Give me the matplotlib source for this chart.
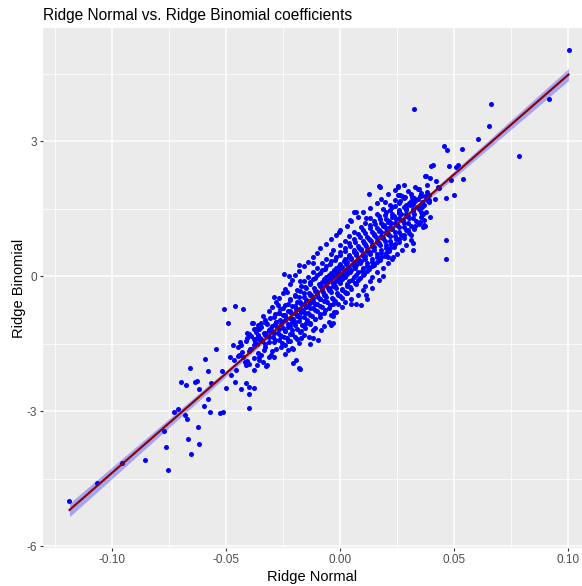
import numpy as np
import matplotlib
matplotlib.use("Agg")
import matplotlib.pyplot as plt

plt.rcParams['font.family'] = ['Liberation Sans', 'DejaVu Sans']

title = "Ridge Normal vs. Ridge Binomial coefficients"
x_label = "Ridge Normal"
y_label = "Ridge Binomial"
x_ticks = [-0.10, -0.05, 0.00, 0.05, 0.10]
x_tick_labels = ["-0.10", "-0.05", "0.00", "0.05", "0.10"]
y_ticks = [-6, -3, 0, 3]
y_tick_labels = ["-6", "-3", "0", "3"]

# sparse lower-left tail
left_tail = [
    (-0.1188, -4.99), (-0.1068, -4.59), (-0.0957, -4.16), (-0.0855, -4.09),
    (-0.0774, -3.44), (-0.0765, -3.80), (-0.0755, -4.31), (-0.0727, -3.03),
    (-0.0711, -2.95), (-0.0681, -3.09), (-0.0670, -3.17), (-0.0667, -3.62),
    (-0.0655, -3.96), (-0.0626, -3.36), (-0.0620, -3.73), (-0.0699, -2.36),
    (-0.0675, -2.42), (-0.0661, -2.04), (-0.0639, -2.36), (-0.0627, -2.34),
    (-0.0621, -2.51), (-0.0593, -1.84), (-0.0581, -2.10), (-0.0568, -2.38),
    (-0.0580, -2.74), (-0.0596, -2.88), (-0.0570, -3.02), (-0.0543, -1.61),
    (-0.0517, -2.12), (-0.0529, -3.04), (-0.0512, -3.03), (-0.0510, -0.73),
    (-0.0463, -0.66), (-0.0426, -0.74), (-0.0493, -1.04), (-0.0502, -2.48),
    (-0.0477, -2.20), (-0.0470, -1.53), (-0.0482, -1.80), (-0.0466, -1.87),
    (-0.0461, -2.36), (-0.0455, -2.09), (-0.0437, -1.53), (-0.0437, -2.51),
    (-0.0442, -1.76), (-0.0427, -1.79), (-0.0419, -1.90), (-0.0413, -2.37),
    (-0.0401, -2.46), (-0.0401, -2.62), (-0.0401, -2.93), (-0.0377, -2.48),
    (-0.0407, -1.27), (-0.0383, -1.05), (-0.0348, -1.05), (-0.0377, -1.18),
    (-0.0395, -1.63), (-0.0377, -1.40), (-0.0360, -1.31), (-0.0354, -1.18),
    (-0.0414, -1.98), (-0.0400, -1.96), (-0.0377, -2.09), (-0.0363, -1.98),
    (-0.0354, -1.79), (-0.0348, -1.76), (-0.0366, -1.51), (-0.0341, -1.44),
    (-0.0333, -1.64), (-0.0319, -1.98), (-0.0311, -1.20), (-0.0319, -1.07),
    (-0.0333, -1.27), (-0.0400, -1.67),
]

# edge points of the central cloud
cloud_edge = [
    (-0.0179, 0.24), (-0.0120, 0.28), (-0.0245, 0.04), (-0.0223, 0.01),
    (-0.0289, -0.46), (-0.0233, -0.35), (-0.0175, -0.10), (-0.0274, -0.64),
    (-0.0267, -0.83), (-0.0282, -1.01), (-0.0385, -1.05), (-0.0370, -1.20),
    (-0.0363, -1.38), (-0.0304, -1.76), (-0.0289, -1.79), (-0.0356, -1.87),
    (-0.0326, -2.00), (-0.0260, -1.57), (-0.0230, -1.64), (-0.0208, -1.63),
    (-0.0194, -1.87), (-0.0245, -1.35), (-0.0172, -1.38), (-0.0135, -1.35),
    (-0.0120, -1.20), (-0.0084, -1.20), (-0.0098, -1.42), (-0.0040, -0.87),
    (-0.0025, -0.79), (-0.0010, -0.61), (-0.0032, -1.05), (0.0048, -0.61),
    (0.0026, -0.38), (-0.0047, -0.27), (0.0034, 0.21), (-0.0179, -2.05),
    (0.0467, 0.80), (0.0464, 0.39), (0.0371, 2.22), (0.0129, 1.82),
    (0.0169, 2.00), (0.0254, 2.00), (-0.0003, 0.98), (0.0070, 1.43),
    (0.0045, 1.24), (0.0115, -0.42), (0.0119, -0.50), (0.0093, -0.64),
    (-0.0040, -1.09), (-0.0208, -1.93), (-0.0175, -2.07), (0.0369, 1.13),
    (0.0210, 0.42), (0.0232, 0.42), (0.0320, 0.73), (0.0313, 0.91),
    (0.0173, 1.98), (0.0254, 1.80), (0.0063, 1.43), (0.0115, 1.28),
    (0.0364, 1.10), (0.0313, 0.80), (0.0320, 0.58),
]

# dense core of the cloud, read row by row
core = [
    (-0.045, -1.58), (-0.039, -1.62), (-0.033, -1.57), (-0.028, -1.63), (-0.021, -1.59),
    (-0.043, -1.68), (-0.036, -1.72), (-0.030, -1.67), (-0.024, -1.73),
    (-0.045, -1.78), (-0.038, -1.82), (-0.031, -1.79), (-0.041, -1.88), (-0.034, -1.92),
    (-0.044, -1.47), (-0.038, -1.53), (-0.033, -1.50), (-0.029, -1.46), (-0.024, -1.54),
    (-0.018, -1.49), (-0.013, -1.52),
    (-0.041, -1.38), (-0.035, -1.42), (-0.031, -1.36), (-0.027, -1.41), (-0.023, -1.44),
    (-0.019, -1.39), (-0.012, -1.37),
    (-0.040, -1.28), (-0.033, -1.32), (-0.029, -1.27), (-0.026, -1.33), (-0.022, -1.29),
    (-0.016, -1.31),
    (-0.037, -1.18), (-0.031, -1.22), (-0.027, -1.17), (-0.024, -1.23), (-0.021, -1.19),
    (-0.017, -1.21), (-0.011, -1.16),
    (-0.036, -1.08), (-0.030, -1.12), (-0.026, -1.07), (-0.023, -1.13), (-0.020, -1.09),
    (-0.016, -1.11), (-0.013, -1.06), (-0.007, -1.12),
    (-0.033, -0.98), (-0.028, -1.03), (-0.024, -0.97), (-0.021, -1.02), (-0.018, -0.99),
    (-0.015, -1.04), (-0.011, -0.96), (-0.005, -1.01),
    (-0.034, -0.88), (-0.029, -0.92), (-0.025, -0.87), (-0.022, -0.93), (-0.019, -0.89),
    (-0.016, -0.91), (-0.013, -0.86), (-0.009, -0.92), (-0.003, -0.88),
    (-0.031, -0.78), (-0.027, -0.82), (-0.023, -0.77), (-0.020, -0.83), (-0.017, -0.79),
    (-0.014, -0.81), (-0.011, -0.76), (-0.007, -0.82), (-0.002, -0.79),
    (-0.030, -0.68), (-0.025, -0.72), (-0.021, -0.67), (-0.018, -0.73), (-0.015, -0.69),
    (-0.012, -0.71), (-0.009, -0.66), (-0.005, -0.72), (0.001, -0.69),
    (-0.028, -0.58), (-0.023, -0.62), (-0.019, -0.57), (-0.016, -0.63), (-0.013, -0.59),
    (-0.010, -0.61), (-0.007, -0.56), (-0.003, -0.62), (0.002, -0.58), (0.007, -0.61),
    (-0.027, -0.48), (-0.022, -0.52), (-0.018, -0.47), (-0.015, -0.53), (-0.012, -0.49),
    (-0.009, -0.51), (-0.006, -0.46), (-0.003, -0.52), (0.001, -0.48), (0.005, -0.51),
    (-0.025, -0.38), (-0.020, -0.42), (-0.016, -0.37), (-0.013, -0.43), (-0.010, -0.39),
    (-0.007, -0.41), (-0.004, -0.36), (-0.001, -0.42), (0.003, -0.38), (0.008, -0.41),
    (-0.024, -0.28), (-0.019, -0.32), (-0.015, -0.27), (-0.011, -0.33), (-0.008, -0.29),
    (-0.005, -0.31), (-0.002, -0.26), (0.001, -0.32), (0.005, -0.28), (0.010, -0.31),
    (0.014, -0.27),
    (-0.022, -0.18), (-0.017, -0.22), (-0.013, -0.17), (-0.009, -0.23), (-0.006, -0.19),
    (-0.003, -0.21), (0.000, -0.16), (0.003, -0.22), (0.007, -0.18), (0.011, -0.21),
    (-0.021, -0.08), (-0.016, -0.12), (-0.012, -0.07), (-0.008, -0.13), (-0.005, -0.09),
    (-0.002, -0.11), (0.001, -0.06), (0.004, -0.12), (0.008, -0.08), (0.013, -0.11),
    (0.017, -0.09),
    (-0.020, 0.02), (-0.014, -0.02), (-0.010, 0.03), (-0.006, -0.03), (-0.003, 0.01),
    (0.000, -0.01), (0.003, 0.04), (0.006, -0.02), (0.010, 0.02), (0.014, -0.01),
    (0.019, 0.01),
    (-0.018, 0.12), (-0.012, 0.08), (-0.008, 0.13), (-0.004, 0.07), (-0.001, 0.11),
    (0.002, 0.09), (0.005, 0.14), (0.008, 0.08), (0.012, 0.12), (0.016, 0.09),
    (-0.016, 0.22), (-0.010, 0.18), (-0.006, 0.23), (-0.002, 0.17), (0.001, 0.21),
    (0.004, 0.19), (0.007, 0.24), (0.010, 0.18), (0.014, 0.22), (0.019, 0.19),
    (-0.014, 0.32), (-0.008, 0.28), (-0.004, 0.33), (0.000, 0.27), (0.003, 0.31),
    (0.006, 0.29), (0.009, 0.34), (0.012, 0.28), (0.016, 0.32), (0.021, 0.29),
    (-0.012, 0.42), (-0.006, 0.38), (-0.002, 0.43), (0.002, 0.37), (0.005, 0.41),
    (0.008, 0.39), (0.011, 0.44), (0.014, 0.38), (0.018, 0.42), (0.023, 0.39),
    (-0.010, 0.52), (-0.004, 0.48), (0.000, 0.53), (0.004, 0.47), (0.007, 0.51),
    (0.010, 0.49), (0.013, 0.54), (0.016, 0.48), (0.020, 0.52), (0.025, 0.49),
    (-0.009, 0.62), (-0.003, 0.58), (0.002, 0.63), (0.006, 0.57), (0.009, 0.61),
    (0.012, 0.59), (0.015, 0.64), (0.018, 0.58), (0.022, 0.62), (0.027, 0.59),
    (-0.006, 0.72), (0.000, 0.68), (0.004, 0.73), (0.008, 0.67), (0.011, 0.71),
    (0.014, 0.69), (0.017, 0.74), (0.020, 0.68), (0.024, 0.72), (0.029, 0.69),
    (-0.004, 0.82), (0.002, 0.78), (0.006, 0.83), (0.010, 0.77), (0.013, 0.81),
    (0.016, 0.79), (0.019, 0.84), (0.022, 0.78), (0.026, 0.82),
    (-0.002, 0.92), (0.004, 0.88), (0.008, 0.93), (0.012, 0.87), (0.015, 0.91),
    (0.018, 0.89), (0.021, 0.94), (0.024, 0.88), (0.028, 0.92),
    (0.000, 1.02), (0.006, 0.98), (0.010, 1.03), (0.014, 0.97), (0.017, 1.01),
    (0.020, 0.99), (0.023, 1.04), (0.026, 0.98), (0.030, 1.02),
    (0.003, 1.12), (0.009, 1.08), (0.013, 1.13), (0.016, 1.07), (0.019, 1.11),
    (0.022, 1.09), (0.025, 1.14), (0.028, 1.08), (0.033, 1.12),
    (0.005, 1.22), (0.011, 1.18), (0.015, 1.23), (0.018, 1.17), (0.021, 1.21),
    (0.024, 1.19), (0.027, 1.24), (0.030, 1.18), (0.035, 1.21),
    (0.008, 1.32), (0.013, 1.28), (0.017, 1.33), (0.020, 1.27), (0.023, 1.31),
    (0.026, 1.29), (0.029, 1.34), (0.032, 1.28),
    (0.010, 1.42), (0.016, 1.38), (0.020, 1.43), (0.023, 1.37), (0.026, 1.41),
    (0.029, 1.39), (0.032, 1.44), (0.036, 1.38),
    (0.013, 1.52), (0.019, 1.48), (0.023, 1.53), (0.026, 1.47), (0.029, 1.51),
    (0.032, 1.49), (0.036, 1.54),
    (0.016, 1.62), (0.022, 1.58), (0.026, 1.63), (0.029, 1.57), (0.032, 1.61),
    (0.035, 1.59), (0.039, 1.64),
    (0.018, 1.72), (0.024, 1.68), (0.028, 1.73), (0.031, 1.67), (0.034, 1.71),
    (0.038, 1.69),
    (0.021, 1.82), (0.027, 1.78), (0.031, 1.83), (0.035, 1.77), (0.039, 1.81),
    (0.024, 1.92), (0.030, 1.88), (0.034, 1.93), (0.038, 1.87),
    (0.028, 2.02), (0.033, 1.98), (0.038, 2.03), (0.043, 1.97),
]

# points packed tightly along the fitted line, between the core rows
core_inner = [
    (-0.0414, -1.44), (-0.0374, -1.47), (-0.0344, -1.43), (-0.0314, -1.46), (-0.0284, -1.42), (-0.0254, -1.48), (-0.0219, -1.45),
    (-0.0393, -1.34), (-0.0353, -1.37), (-0.0323, -1.33), (-0.0293, -1.36), (-0.0263, -1.32), (-0.0233, -1.38), (-0.0198, -1.35),
    (-0.0371, -1.24), (-0.0331, -1.27), (-0.0301, -1.23), (-0.0271, -1.26), (-0.0241, -1.22), (-0.0211, -1.28), (-0.0176, -1.25),
    (-0.0349, -1.14), (-0.0309, -1.17), (-0.0279, -1.13), (-0.0249, -1.16), (-0.0219, -1.12), (-0.0189, -1.18), (-0.0154, -1.15),
    (-0.0327, -1.04), (-0.0287, -1.07), (-0.0257, -1.03), (-0.0227, -1.06), (-0.0197, -1.02), (-0.0167, -1.08), (-0.0132, -1.05),
    (-0.0306, -0.94), (-0.0266, -0.97), (-0.0236, -0.93), (-0.0206, -0.96), (-0.0176, -0.92), (-0.0146, -0.98), (-0.0111, -0.95),
    (-0.0284, -0.84), (-0.0244, -0.87), (-0.0214, -0.83), (-0.0184, -0.86), (-0.0154, -0.82), (-0.0124, -0.88), (-0.0089, -0.85),
    (-0.0262, -0.74), (-0.0222, -0.77), (-0.0192, -0.73), (-0.0162, -0.76), (-0.0132, -0.72), (-0.0102, -0.78), (-0.0067, -0.75),
    (-0.0240, -0.64), (-0.0200, -0.67), (-0.0170, -0.63), (-0.0140, -0.66), (-0.0110, -0.62), (-0.0080, -0.68), (-0.0045, -0.65),
    (-0.0218, -0.54), (-0.0178, -0.57), (-0.0148, -0.53), (-0.0118, -0.56), (-0.0088, -0.52), (-0.0058, -0.58), (-0.0023, -0.55),
    (-0.0197, -0.44), (-0.0157, -0.47), (-0.0127, -0.43), (-0.0097, -0.46), (-0.0067, -0.42), (-0.0037, -0.48), (-0.0002, -0.45),
    (-0.0175, -0.34), (-0.0135, -0.37), (-0.0105, -0.33), (-0.0075, -0.36), (-0.0045, -0.32), (-0.0015, -0.38), (0.0020, -0.35),
    (-0.0153, -0.24), (-0.0113, -0.27), (-0.0083, -0.23), (-0.0053, -0.26), (-0.0023, -0.22), (0.0007, -0.28), (0.0042, -0.25),
    (-0.0131, -0.14), (-0.0091, -0.17), (-0.0061, -0.13), (-0.0031, -0.16), (-0.0001, -0.12), (0.0029, -0.18), (0.0064, -0.15),
    (-0.0109, -0.04), (-0.0069, -0.07), (-0.0039, -0.03), (-0.0009, -0.06), (0.0021, -0.02), (0.0051, -0.08), (0.0086, -0.05),
    (-0.0088, 0.06), (-0.0048, 0.03), (-0.0018, 0.07), (0.0012, 0.04), (0.0042, 0.08), (0.0072, 0.02), (0.0107, 0.05),
    (-0.0066, 0.16), (-0.0026, 0.13), (0.0004, 0.17), (0.0034, 0.14), (0.0064, 0.18), (0.0094, 0.12), (0.0129, 0.15),
    (-0.0044, 0.26), (-0.0004, 0.23), (0.0026, 0.27), (0.0056, 0.24), (0.0086, 0.28), (0.0116, 0.22), (0.0151, 0.25),
    (-0.0022, 0.36), (0.0018, 0.33), (0.0048, 0.37), (0.0078, 0.34), (0.0108, 0.38), (0.0138, 0.32), (0.0173, 0.35),
    (0.0000, 0.46), (0.0040, 0.43), (0.0070, 0.47), (0.0100, 0.44), (0.0130, 0.48), (0.0160, 0.42), (0.0195, 0.45),
    (0.0021, 0.56), (0.0061, 0.53), (0.0091, 0.57), (0.0121, 0.54), (0.0151, 0.58), (0.0181, 0.52), (0.0216, 0.55),
    (0.0043, 0.66), (0.0083, 0.63), (0.0113, 0.67), (0.0143, 0.64), (0.0173, 0.68), (0.0203, 0.62), (0.0238, 0.65),
    (0.0065, 0.76), (0.0105, 0.73), (0.0135, 0.77), (0.0165, 0.74), (0.0195, 0.78), (0.0225, 0.72), (0.0260, 0.75),
    (0.0087, 0.86), (0.0127, 0.83), (0.0157, 0.87), (0.0187, 0.84), (0.0217, 0.88), (0.0247, 0.82), (0.0282, 0.85),
    (0.0109, 0.96), (0.0149, 0.93), (0.0179, 0.97), (0.0209, 0.94), (0.0239, 0.98), (0.0269, 0.92), (0.0304, 0.95),
    (0.0130, 1.06), (0.0170, 1.03), (0.0200, 1.07), (0.0230, 1.04), (0.0260, 1.08), (0.0290, 1.02), (0.0325, 1.05),
    (0.0152, 1.16), (0.0192, 1.13), (0.0222, 1.17), (0.0252, 1.14), (0.0282, 1.18), (0.0312, 1.12), (0.0347, 1.15),
    (0.0174, 1.26), (0.0214, 1.23), (0.0244, 1.27), (0.0274, 1.24), (0.0304, 1.28), (0.0334, 1.22), (0.0369, 1.25),
    (0.0196, 1.36), (0.0236, 1.33), (0.0266, 1.37), (0.0296, 1.34), (0.0326, 1.38), (0.0356, 1.32),
    (0.0218, 1.46), (0.0258, 1.43), (0.0288, 1.47), (0.0318, 1.44), (0.0348, 1.48), (0.0378, 1.42),
    (0.0239, 1.56), (0.0279, 1.53), (0.0309, 1.57), (0.0339, 1.54), (0.0369, 1.58),
    (0.0261, 1.66), (0.0301, 1.63), (0.0331, 1.67), (0.0361, 1.64), (0.0391, 1.68),
    (0.0283, 1.76), (0.0323, 1.73), (0.0353, 1.77), (0.0383, 1.74),
]

# sparse upper-right tail
upper_tail = [
    (0.1003, 5.02), (0.0918, 3.93), (0.0786, 2.67), (0.0323, 3.71),
    (0.0662, 3.82), (0.0655, 3.34), (0.0604, 3.04), (0.0537, 2.82),
    (0.0457, 2.89), (0.0468, 2.80), (0.0401, 2.44), (0.0410, 2.46),
    (0.0479, 2.44), (0.0508, 2.43), (0.0518, 2.47), (0.0376, 2.23),
    (0.0396, 2.18), (0.0423, 2.12), (0.0485, 2.13), (0.0540, 2.16),
    (0.0345, 1.93), (0.0354, 1.85), (0.0435, 1.95), (0.0501, 1.80),
    (0.0467, 1.74), (0.0416, 1.71), (0.0371, 1.78), (0.0254, 1.97),
    (0.0261, 1.80), (0.0316, 1.76), (0.0327, 1.69), (0.0195, 1.65),
    (0.0357, 1.43), (0.0364, 1.38), (0.0393, 1.32), (0.0371, 1.11),
]

pts = np.array(left_tail + cloud_edge + core + core_inner + upper_tail)
x = pts[:, 0]
y = pts[:, 1]

# linear fit with 95% confidence band (like geom_smooth(method="lm"))
slope, intercept = np.polyfit(x, y, 1)
n = len(x)
resid = y - (slope * x + intercept)
sigma = np.sqrt(np.sum(resid ** 2) / (n - 2))
sxx = np.sum((x - x.mean()) ** 2)
xs = np.linspace(x.min(), x.max(), 200)
fit = slope * xs + intercept
se = sigma * np.sqrt(1 / n + (xs - x.mean()) ** 2 / sxx)

fig = plt.figure(figsize=(5.82, 5.86), dpi=100)
ax = fig.add_axes([0.074, 0.065, 0.926, 0.887])
ax.set_facecolor("#EBEBEB")

ax.set_xticks([-0.125, -0.075, -0.025, 0.025, 0.075], minor=True)
ax.set_yticks([-4.5, -1.5, 1.5, 4.5], minor=True)
ax.grid(True, which="major", color="white", linewidth=1.1)
ax.grid(True, which="minor", color="white", linewidth=0.55)
ax.set_axisbelow(True)

ax.scatter(x, y, s=13, color="blue", marker="o", linewidths=0, zorder=2)
ax.fill_between(xs, fit - 1.96 * se, fit + 1.96 * se, color="blue", alpha=0.3,
                linewidth=0, zorder=3)
ax.plot(xs, fit, color="#8B0000", linewidth=1.5, zorder=4)

ax.set_xlim(-0.1304, 0.1062)
ax.set_ylim(-6.04, 5.51)
ax.set_xticks(x_ticks)
ax.set_xticklabels(x_tick_labels)
ax.set_yticks(y_ticks)
ax.set_yticklabels(y_tick_labels)
ax.tick_params(which="major", length=2.5, width=0.8, color="#333333",
               labelcolor="#4D4D4D", labelsize=8.5, pad=2)
ax.tick_params(which="minor", length=0)
for s in ax.spines.values():
    s.set_visible(False)

ax.set_xlabel(x_label, fontsize=10.5, color="black", labelpad=3)
ax.set_ylabel(y_label, fontsize=10.5, color="black", labelpad=0)
ax.set_title(title, fontsize=11.2, loc="left", pad=6)

fig.savefig("out.png", dpi=100)
